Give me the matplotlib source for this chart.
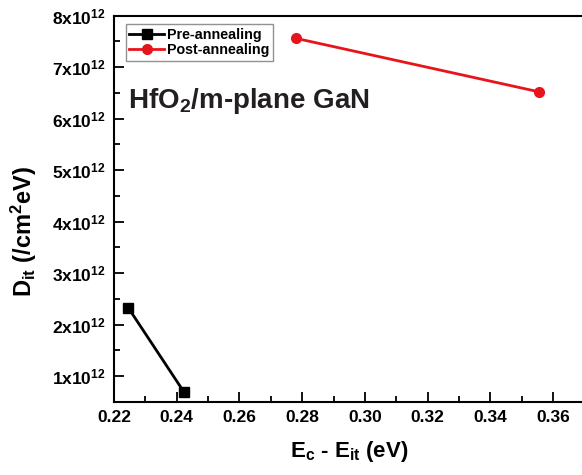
import matplotlib
matplotlib.use('Agg')
import matplotlib.pyplot as plt
from matplotlib.ticker import MultipleLocator, FuncFormatter

plt.rcParams['font.family'] = ['Liberation Sans', 'DejaVu Sans']
plt.rcParams['font.weight'] = 'bold'
plt.rcParams['mathtext.fontset'] = 'custom'
plt.rcParams['mathtext.rm'] = 'Liberation Sans:bold'
plt.rcParams['mathtext.bf'] = 'Liberation Sans:bold'
plt.rcParams['mathtext.it'] = 'Liberation Sans:bold'
plt.rcParams['mathtext.default'] = 'bf'

# data
pre_x = [0.2245, 0.2423]
pre_y = [2.33e12, 0.69e12]
post_x = [0.278, 0.3556]
post_y = [7.56e12, 6.52e12]

fig = plt.figure(figsize=(5.82, 4.75), dpi=100)
ax = fig.add_axes([0.196, 0.154, 0.808, 0.813])

ax.plot(pre_x, pre_y, color='black', marker='s', markersize=7, linewidth=2, label='Pre-annealing')
ax.plot(post_x, post_y, color='#e8141c', marker='o', markersize=7, linewidth=2, label='Post-annealing')

ax.set_xlim(0.22, 0.37)
ax.set_ylim(0.5e12, 8e12)
ax.xaxis.set_major_locator(MultipleLocator(0.02))
ax.xaxis.set_minor_locator(MultipleLocator(0.01))
ax.yaxis.set_major_locator(MultipleLocator(1e12))
ax.yaxis.set_minor_locator(MultipleLocator(0.5e12))
ax.xaxis.set_major_formatter(FuncFormatter(lambda v, p: f'{v:.2f}'))
ax.yaxis.set_major_formatter(FuncFormatter(lambda v, p: r'$%dx10^{12}$' % round(v / 1e12)))

ax.tick_params(which='both', direction='in', width=1.3, labelsize=12.5)
ax.tick_params(which='major', length=7, pad=6)
ax.tick_params(which='minor', length=4)
for s in ax.spines.values():
    s.set_linewidth(1.5)
ax.spines['right'].set_visible(False)

ax.set_xlabel(r'$E_c$ - $E_{it}$ (eV)', fontsize=16, fontweight='bold', labelpad=10)
ax.set_ylabel(r'$D_{it}$ (/cm$^2$eV)', fontsize=17, fontweight='bold')
ax.yaxis.set_label_coords(-0.159, 0.44)

ax.text(0.03, 0.78, r'HfO$_2$/m-plane GaN', transform=ax.transAxes, fontsize=20,
        fontweight='bold', color='#231f20', va='center')

leg = ax.legend(loc='upper left', bbox_to_anchor=(0.025, 0.978), fontsize=10.3,
                frameon=True, fancybox=False, edgecolor='#777777', handlelength=2.4,
                borderpad=0.25, labelspacing=0.1, handletextpad=0.25, borderaxespad=0)
leg.get_frame().set_linewidth(1)
for t in leg.get_texts():
    t.set_fontweight('bold')

fig.savefig('out.png', dpi=100)
